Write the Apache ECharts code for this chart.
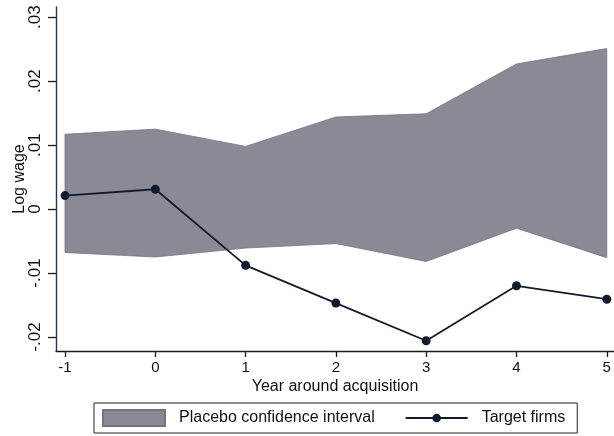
<!DOCTYPE html>
<html>
<head>
<meta charset="utf-8">
<script src="https://cdn.jsdelivr.net/npm/echarts@6/dist/echarts.min.js"></script>
<style>
html,body{margin:0;padding:0;background:#fff;}
#chart{width:614px;height:436px;}
</style>
</head>
<body>
<div id="chart"></div>
<script>
// ---- data ----
var years = [-1, 0, 1, 2, 3, 4, 5];
var targetFirms = [0.0021, 0.0031, -0.0088, -0.0147, -0.0206, -0.0120, -0.0141];
var placeboLower = [-0.0068, -0.0075, -0.0061, -0.0054, -0.0082, -0.0030, -0.0076];
var placeboUpper = [0.0117, 0.0125, 0.0098, 0.0144, 0.0149, 0.0227, 0.0251];
var yTicks = [-0.02, -0.01, 0, 0.01, 0.02, 0.03];
var yTickLabels = ['-.02', '-.01', '0', '.01', '.02', '.03'];
var xTicks = [-1, 0, 1, 2, 3, 4, 5];

var FONT = '"Liberation Sans", Arial, Helvetica, sans-serif';

var bandData = years.map(function (x, i) { return [x, placeboLower[i], placeboUpper[i]]; });
var lineData = years.map(function (x, i) { return [x, targetFirms[i]]; });

// legend icon for the line series: thin line with a dot in the middle (62x16 box)
var lineDotIcon = 'path://M0,0 M62,16 M0,7.1 L62,7.1 L62,8.9 L0,8.9 Z M35.3,8 A4.3,4.3 0 1 1 26.7,8 A4.3,4.3 0 1 1 35.3,8 Z';

var chart = echarts.init(document.getElementById('chart'), null, {renderer: 'canvas'});
chart.setOption({
  animation: false,
  backgroundColor: '#ffffff',
  textStyle: {fontFamily: FONT, color: '#111'},
  grid: {left: 56, top: 7, right: 0, bottom: 85},
  xAxis: {
    type: 'value',
    min: -1.1,
    max: 5.08,
    name: 'Year around acquisition',
    nameLocation: 'middle',
    nameGap: 28,
    nameMoveOverlap: false,
    nameTextStyle: {fontSize: 16, color: '#111', fontFamily: FONT},
    axisLine: {show: true, onZero: false, lineStyle: {color: '#1a1a1a', width: 1.3}},
    axisTick: {show: true, length: 6, customValues: xTicks, lineStyle: {color: '#1a1a1a', width: 1.3}},
    axisLabel: {show: true, customValues: xTicks, margin: 9, fontSize: 15, color: '#111', fontFamily: FONT},
    splitLine: {show: false}
  },
  yAxis: {
    type: 'value',
    min: -0.0222,
    max: 0.0316,
    name: 'Log wage',
    nameLocation: 'middle',
    nameRotate: 90,
    nameGap: 28,
    nameMoveOverlap: false,
    nameTextStyle: {fontSize: 16, color: '#111', fontFamily: FONT},
    axisLine: {show: true, onZero: false, lineStyle: {color: '#1f3566', width: 1.4}},
    axisTick: {show: true, length: 8, customValues: yTicks, lineStyle: {color: '#1a1a1a', width: 1.3}},
    axisLabel: {
      show: true, customValues: yTicks, rotate: 90, margin: 12, fontSize: 17, color: '#111', fontFamily: FONT,
      formatter: function (v) {
        for (var i = 0; i < yTicks.length; i++) { if (Math.abs(yTicks[i] - v) < 1e-9) return yTickLabels[i]; }
        return '';
      }
    },
    splitLine: {show: false}
  },
  legend: {
    left: 94,
    top: 403,
    orient: 'horizontal',
    padding: [6, 12, 6, 8],
    borderColor: '#222',
    borderWidth: 1,
    itemGap: 31,
    itemWidth: 62,
    itemHeight: 16,
    formatter: function (name) { return '{s|}' + name; },
    textStyle: {
      fontSize: 16, color: '#111', fontFamily: FONT,
      rich: {s: {width: 9}}
    },
    data: [
      {name: 'Placebo confidence interval', icon: 'rect'},
      {name: 'Target firms', icon: lineDotIcon}
    ]
  },
  series: [
    {
      name: 'Placebo confidence interval',
      type: 'custom',
      data: bandData,
      encode: {x: 0, y: [1, 2]},
      itemStyle: {color: '#8a8994', borderColor: '#75747e', borderWidth: 0.8},
      renderItem: function (params, api) {
        if (params.dataIndex !== 0) return;
        var pts = [];
        var i;
        for (i = 0; i < years.length; i++) pts.push(api.coord([years[i], placeboUpper[i]]));
        for (i = years.length - 1; i >= 0; i--) pts.push(api.coord([years[i], placeboLower[i]]));
        return {
          type: 'polygon',
          shape: {points: pts},
          style: {fill: '#8a8994', stroke: '#75747e', lineWidth: 0.8}
        };
      },
      z: 1
    },
    {
      name: 'Target firms',
      type: 'line',
      data: lineData,
      symbol: 'circle',
      symbolSize: 9,
      lineStyle: {color: '#141a2e', width: 1.8},
      itemStyle: {color: '#141a2e'},
      z: 3
    }
  ]
});
</script>
</body>
</html>
